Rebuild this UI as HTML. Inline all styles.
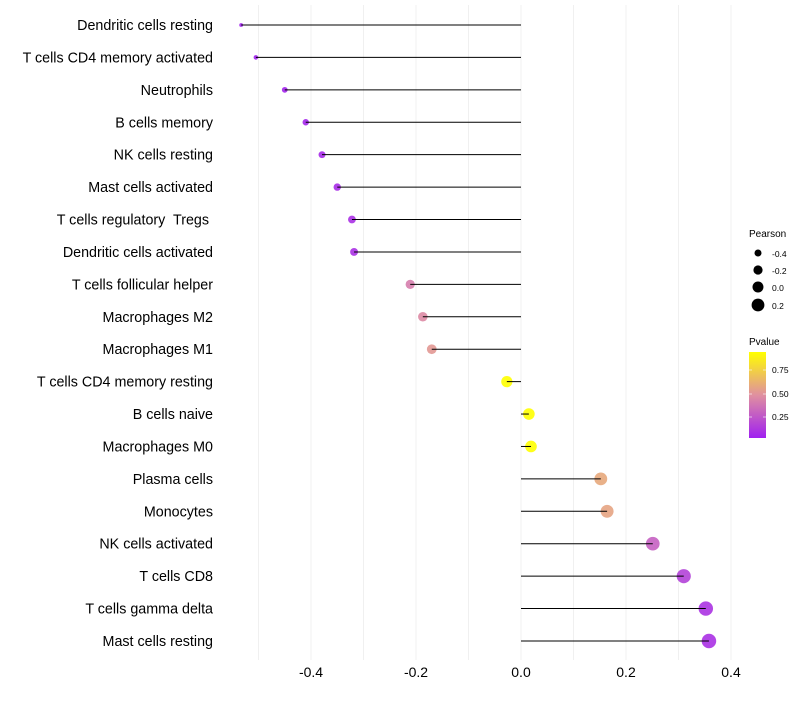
<!DOCTYPE html>
<html><head><meta charset="utf-8"><style>
body{margin:0;background:#fff;font-family:"Liberation Sans",sans-serif;}
#labels text{white-space:pre;}
</style></head><body>
<svg id="chart" width="800" height="700" xmlns="http://www.w3.org/2000/svg" font-family="Liberation Sans, sans-serif">
<defs><linearGradient id="pg" x1="0" y1="1" x2="0" y2="0">
<stop offset="0" stop-color="#a020f0"/><stop offset="0.5" stop-color="#e090a0"/><stop offset="1" stop-color="#ffff00"/>
</linearGradient></defs>
<g id="grid"></g>
<g id="marks"></g>
<g id="labels"></g>
<g id="xticks"></g>
<g>
<text x="749" y="237" font-size="10">Pearson</text>
<circle cx="758" cy="253" r="3.5" fill="#000"/><text x="772" y="257" font-size="8.5">-0.4</text>
<circle cx="758" cy="270" r="4.6" fill="#000"/><text x="772" y="274" font-size="8.5">-0.2</text>
<circle cx="758" cy="287" r="5.5" fill="#000"/><text x="772" y="291" font-size="8.5">0.0</text>
<circle cx="758" cy="305" r="6.4" fill="#000"/><text x="772" y="309" font-size="8.5">0.2</text>
</g>
<g>
<text x="749" y="345" font-size="10">Pvalue</text>
<rect x="749" y="352" width="17" height="86" fill="url(#pg)"/>
<line x1="749" y1="370" x2="752" y2="370" stroke="#fff" opacity="0.6"/><line x1="763" y1="370" x2="766" y2="370" stroke="#fff" opacity="0.6"/>
<line x1="749" y1="394" x2="752" y2="394" stroke="#fff" opacity="0.6"/><line x1="763" y1="394" x2="766" y2="394" stroke="#fff" opacity="0.6"/>
<line x1="749" y1="417" x2="752" y2="417" stroke="#fff" opacity="0.6"/><line x1="763" y1="417" x2="766" y2="417" stroke="#fff" opacity="0.6"/>
<text x="772" y="373" font-size="8.5">0.75</text>
<text x="772" y="397" font-size="8.5">0.50</text>
<text x="772" y="420" font-size="8.5">0.25</text>
</g>
</svg>
<script>
const categories=["Dendritic cells resting","T cells CD4 memory activated","Neutrophils","B cells memory","NK cells resting","Mast cells activated","T cells regulatory  Tregs ","Dendritic cells activated","T cells follicular helper","Macrophages M2","Macrophages M1","T cells CD4 memory resting","B cells naive","Macrophages M0","Plasma cells","Monocytes","NK cells activated","T cells CD8","T cells gamma delta","Mast cells resting"];
const pearson=[-0.533,-0.505,-0.45,-0.41,-0.379,-0.35,-0.322,-0.318,-0.211,-0.187,-0.17,-0.027,0.015,0.019,0.152,0.164,0.251,0.31,0.352,0.358];
const pvalue=[0.04,0.04,0.05,0.06,0.07,0.08,0.1,0.1,0.42,0.47,0.53,0.96,0.98,0.97,0.6,0.58,0.3,0.17,0.11,0.1];
const xTicks=[-0.4,-0.2,0.0,0.2,0.4];
const xTickLabels=["-0.4","-0.2","0.0","0.2","0.4"];
const NS="http://www.w3.org/2000/svg";
const x=v=>521+v*525;
const y=i=>25+i*32.42;
const r=v=>Math.sqrt(Math.max(1.5,(v+0.6)*55));
function lerp(a,b,t){return a.map((c,k)=>Math.round(c+(b[k]-c)*t));}
function color(p){const t=Math.min(1,Math.max(0,(p-0.03)/0.93));const A=[160,32,240],M=[224,144,160],Y=[255,255,0];
const c=t<0.5?lerp(A,M,t*2):lerp(M,Y,(t-0.5)*2);return `rgb(${c})`;}
function mk(tag,attrs,parent){const e=document.createElementNS(NS,tag);for(const k in attrs)e.setAttribute(k,attrs[k]);parent.appendChild(e);return e;}
const grid=document.getElementById('grid');
for(let g=-0.5;g<=0.41;g+=0.1){const l=mk('line',{x1:x(g),x2:x(g),y1:5,y2:660,stroke:'#f0f0f0','stroke-width':1},grid);

}
const marks=document.getElementById('marks'),labels=document.getElementById('labels');
categories.forEach((c,i)=>{
const pt=mk('circle',{cx:x(pearson[i]),cy:y(i),r:r(pearson[i]),fill:color(pvalue[i]),'fill-opacity':0.9},marks);


const ln=mk('line',{x1:x(0),x2:x(pearson[i]),y1:y(i),y2:y(i),stroke:'#000','stroke-width':1},marks);


const t=mk('text',{x:213,y:y(i)+5,'text-anchor':'end','font-size':14.3,fill:'#000'},labels);
t.setAttribute('xml:space','preserve');
t.textContent=c;


});
const xt=document.getElementById('xticks');
xTicks.forEach((v,i)=>{const t=mk('text',{x:x(v),y:677,'text-anchor':'middle','font-size':14,fill:'#000'},xt);
t.textContent=xTickLabels[i];

});
</script>
</body></html>
